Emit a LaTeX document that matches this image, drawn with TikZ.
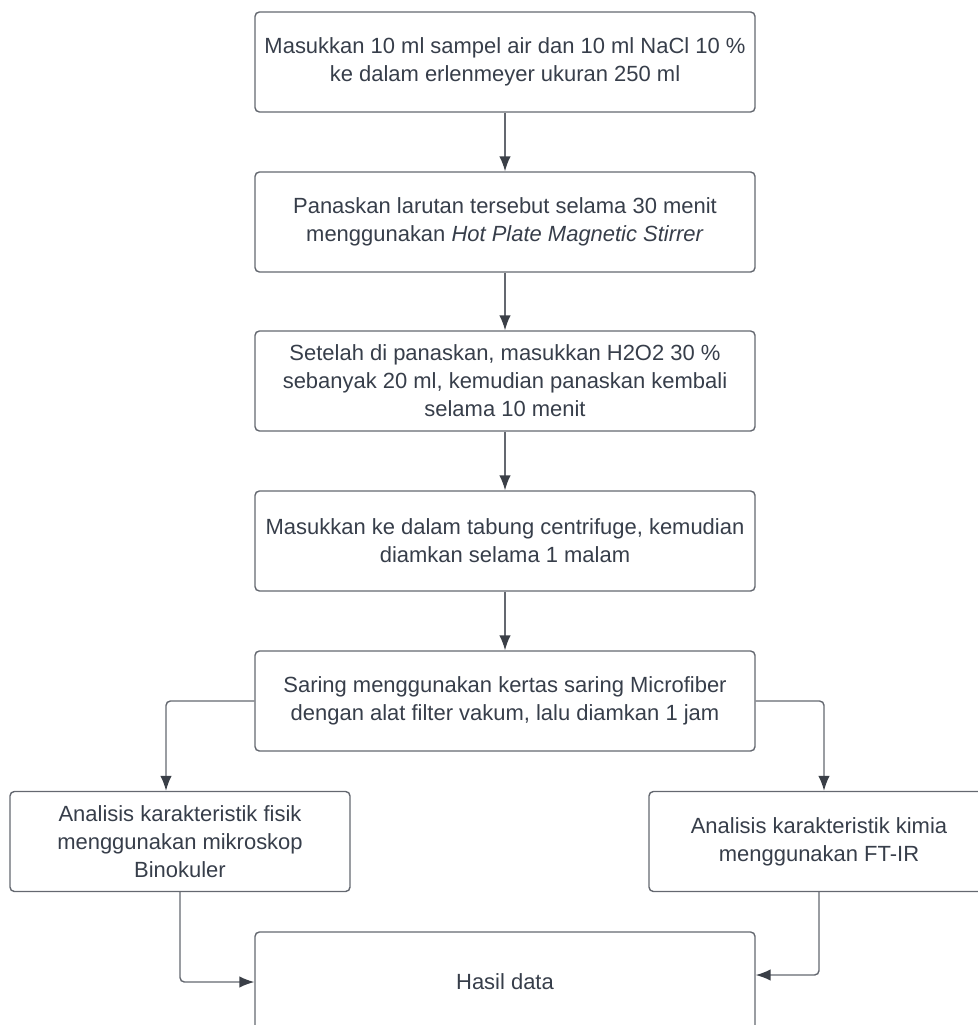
\documentclass[tikz,border=0pt]{standalone}
\usepackage{fontspec}
\setmainfont{Liberation Sans}
\usepackage{tikz}
\usetikzlibrary{arrows.meta}
\usetikzlibrary{positioning}

\definecolor{garis}{RGB}{100,104,112}
\definecolor{panah}{RGB}{58,63,71}
\definecolor{teks}{RGB}{55,62,74}

\begin{document}
\begin{tikzpicture}[
	kotak/.style={draw=garis, line width=0.8pt, rounded corners=2.5pt, align=center,
		text=teks, font=\fontsize{12.5}{15.9}\selectfont, inner sep=0pt,
		minimum width=10cm, minimum height=2cm},
	kotakkecil/.style={kotak, minimum width=6.8cm},
	alur/.style={-{Latex[length=8.5pt,width=6.5pt,color=panah]}, draw=garis, line width=0.8pt, rounded corners=2.5pt}
	]
	
	\useasboundingbox (0,0) rectangle (19.54,-20.5);
	%\draw[gray, dashed] (0,0) grid (19.54,-20.5);
	
	\node[kotak] (b1) at (10.1,-1.24) {Masukkan 10 ml sampel air dan 10 ml NaCl 10 \%\\ke dalam erlenmeyer ukuran 250 ml};
	\node[kotak] (b2) at (10.1,-4.44) {Panaskan larutan tersebut selama 30 menit\\menggunakan \textit{Hot Plate Magnetic Stirrer}};
	\node[kotak] (b3) at (10.1,-7.62) {Setelah di panaskan, masukkan H2O2 30 \%\\sebanyak 20 ml, kemudian panaskan kembali\\selama 10 menit};
	\node[kotak] (b4) at (10.1,-10.82) {Masukkan ke dalam tabung centrifuge, kemudian\\diamkan selama 1 malam};
	\node[kotak] (b5) at (10.1,-14.02) {Saring menggunakan kertas saring Microfiber\\dengan alat filter vakum, lalu diamkan 1 jam};
	
	\node[kotakkecil] (fisik) at (3.6,-16.83) {Analisis karakteristik fisik\\menggunakan mikroskop\\Binokuler};
	\node[kotakkecil] (kimia) at (16.38,-16.83) {Analisis karakteristik kimia\\menggunakan FT-IR};
	
	\node[kotak] (hasil) at (10.1,-19.64) {Hasil data};
	
	\draw[alur] (b1) -- (b2);
	\draw[alur] (b2) -- (b3);
	\draw[alur] (b3) -- (b4);
	\draw[alur] (b4) -- (b5);
	
	\draw[alur] (b5.west) -| ([xshift=-0.28cm]fisik.north);
	\draw[alur] (b5.east) -| ([xshift=0.1cm]kimia.north);
	
	\draw[alur] (fisik.south) |- (hasil.west);
	\draw[alur] (kimia.south) |- ([yshift=0.14cm]hasil.east);
	
\end{tikzpicture}
\end{document}
